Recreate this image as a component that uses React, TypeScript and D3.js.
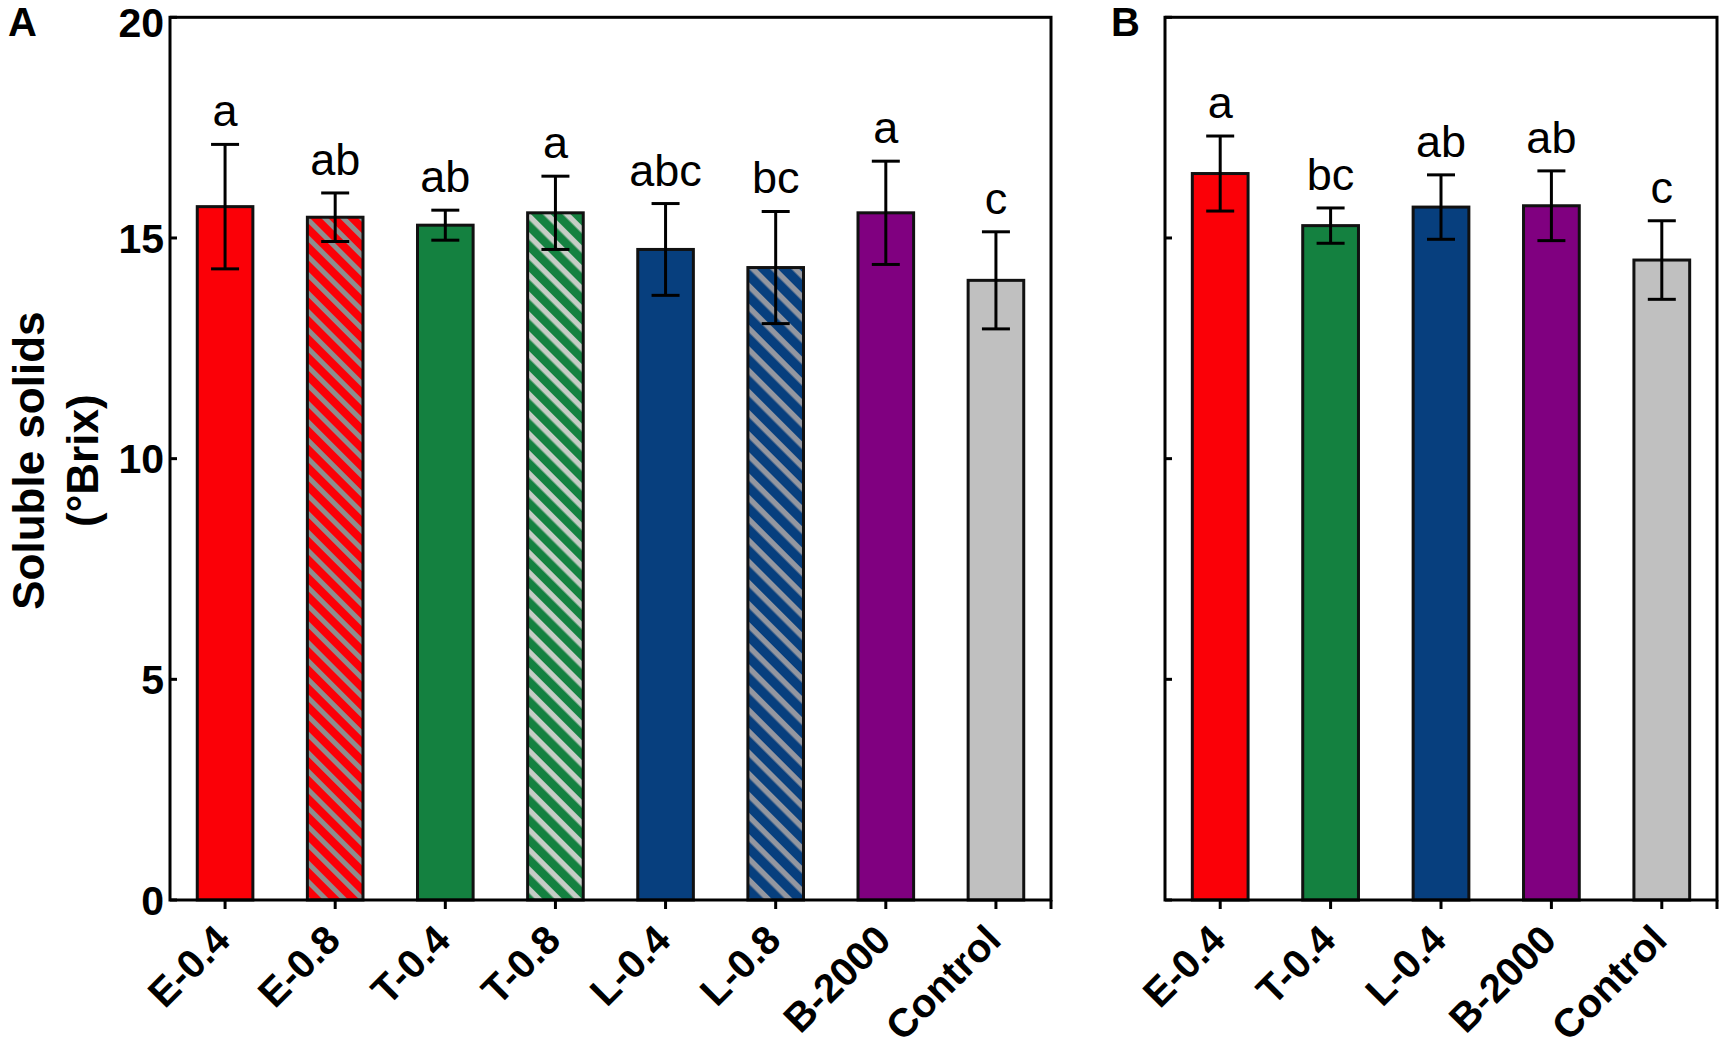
import React from "react";
import * as d3 from "d3";

// ---------- data ----------
const categoriesA = ["E-0.4", "E-0.8", "T-0.4", "T-0.8", "L-0.4", "L-0.8", "B-2000", "Control"];
const meansA = [15.71, 15.47, 15.29, 15.57, 14.74, 14.33, 15.57, 14.04];
const sdA = [1.41, 0.55, 0.34, 0.83, 1.04, 1.27, 1.17, 1.1];
const lettersA = ["a", "ab", "ab", "a", "abc", "bc", "a", "c"];

const categoriesB = ["E-0.4", "T-0.4", "L-0.4", "B-2000", "Control"];
const meansB = [16.46, 15.28, 15.7, 15.73, 14.5];
const sdB = [0.85, 0.4, 0.73, 0.79, 0.89];
const lettersB = ["a", "bc", "ab", "ab", "c"];

const yTicks = [0, 5, 10, 15, 20];
const yTitleLines = ["Soluble solids", "(°Brix)"];

// ---------- styles ----------
const fillFor: Record<string, string> = {
  "E-0.4": "#fb0007",
  "E-0.8": "url(#hatchRed)",
  "T-0.4": "#148140",
  "T-0.8": "url(#hatchGreen)",
  "L-0.4": "#073f7e",
  "L-0.8": "url(#hatchBlue)",
  "B-2000": "#800080",
  Control: "#c0c0c0",
};

const FONT = "'Liberation Sans', Arial, Helvetica, sans-serif";
const W = 1723;
const H = 1061;
const TOP = 17.3;
const BOTTOM = 900;

const y = d3.scaleLinear().domain([0, 20]).range([BOTTOM, TOP]);

type PanelProps = {
  cats: string[];
  means: number[];
  sds: number[];
  letters: string[];
  x0: number;
  x1: number;
  showLabels: boolean;
};

function Panel({ cats, means, sds, letters, x0, x1, showLabels }: PanelProps) {
  const x = d3.scaleBand<string>().domain(cats).range([x0, x1]).paddingInner(0.495).paddingOuter(0.2475);
  const bw = x.bandwidth();
  const capW = 28;
  return (
    <g>
      {cats.map((c, i) => {
        const xl = x(c) as number;
        return (
          <rect
            key={"bar" + c}
            x={xl}
            y={y(means[i])}
            width={bw}
            height={y(0) - y(means[i])}
            fill={fillFor[c]}
            stroke="#111"
            strokeWidth={3}
          />
        );
      })}
      {cats.map((c, i) => {
        const cx = (x(c) as number) + bw / 2;
        const hi = y(means[i] + sds[i]);
        const lo = y(means[i] - sds[i]);
        return (
          <g key={"err" + c} stroke="#000" strokeWidth={3}>
            <line x1={cx} x2={cx} y1={hi} y2={lo} />
            <line x1={cx - capW / 2} x2={cx + capW / 2} y1={hi} y2={hi} />
            <line x1={cx - capW / 2} x2={cx + capW / 2} y1={lo} y2={lo} />
          </g>
        );
      })}
      {cats.map((c, i) => {
        const cx = (x(c) as number) + bw / 2;
        const hi = y(means[i] + sds[i]);
        return (
          <text
            key={"let" + c}
            x={cx}
            y={hi - 18}
            textAnchor="middle"
            fontFamily={FONT}
            fontSize={45}
            fill="#000"
          >
            {letters[i]}
          </text>
        );
      })}
      <rect x={x0} y={TOP} width={x1 - x0} height={BOTTOM - TOP} fill="none" stroke="#000" strokeWidth={3} />
      {yTicks.map((t) => (
        <line key={"yt" + t} x1={x0} x2={x0 + 7} y1={y(t)} y2={y(t)} stroke="#000" strokeWidth={3} />
      ))}
      {showLabels &&
        yTicks.map((t) => (
          <text
            key={"yl" + t}
            x={x0 - 6}
            y={y(t) + (t === 20 ? 5 : 0)}
            dy="0.36em"
            textAnchor="end"
            fontFamily={FONT}
            fontWeight="bold"
            fontSize={41}
            fill="#000"
          >
            {t}
          </text>
        ))}
      {cats.map((c) => {
        const cx = (x(c) as number) + bw / 2;
        return <line key={"xt" + c} x1={cx} x2={cx} y1={BOTTOM} y2={BOTTOM + 9} stroke="#000" strokeWidth={3} />;
      })}
      <line x1={x1} x2={x1} y1={BOTTOM} y2={BOTTOM + 9} stroke="#000" strokeWidth={3} />
      {cats.map((c) => {
        const cx = (x(c) as number) + bw / 2;
        return (
          <text
            key={"xl" + c}
            transform={`translate(${cx - 3},${932}) rotate(-45)`}
            dy="0.36em"
            textAnchor="end"
            fontFamily={FONT}
            fontWeight="bold"
            fontSize={40}
            fill="#000"
          >
            {c}
          </text>
        );
      })}
    </g>
  );
}

export default function App() {
  return (
    <svg
      width={W}
      height={H}
      viewBox={`0 0 ${W} ${H}`}
      style={{ position: "absolute", left: 0, top: 0, background: "#fff" }}
    >
      <defs>
        <pattern id="hatchRed" patternUnits="userSpaceOnUse" width={13} height={13} patternTransform="rotate(45)">
          <rect x={0} y={0} width={13} height={13} fill="#fb0007" />
          <rect x={0} y={0} width={13} height={5} fill="#8e8e8e" />
        </pattern>
        <pattern id="hatchGreen" patternUnits="userSpaceOnUse" width={14} height={14} patternTransform="rotate(45)">
          <rect x={0} y={0} width={14} height={14} fill="#148140" />
          <rect x={0} y={0} width={14} height={5.5} fill="#c6cdc6" />
        </pattern>
        <pattern id="hatchBlue" patternUnits="userSpaceOnUse" width={15} height={15} patternTransform="rotate(45)">
          <rect x={0} y={0} width={15} height={15} fill="#073f7e" />
          <rect x={0} y={0} width={15} height={5.5} fill="#9497a0" />
        </pattern>
      </defs>
      <rect x={0} y={0} width={W} height={H} fill="#fff" />

      <text x={8} y={36} fontFamily={FONT} fontWeight="bold" fontSize={40} fill="#000">
        A
      </text>
      <text x={1111} y={36} fontFamily={FONT} fontWeight="bold" fontSize={40} fill="#000">
        B
      </text>

      <text
        transform={`translate(44,${(y(0) + y(20)) / 2 + 2}) rotate(-90)`}
        textAnchor="middle"
        fontFamily={FONT}
        fontWeight="bold"
        fontSize={44}
        fill="#000"
      >
        {yTitleLines[0]}
      </text>
      <text
        transform={`translate(98,${(y(0) + y(20)) / 2 + 2}) rotate(-90)`}
        textAnchor="middle"
        fontFamily={FONT}
        fontWeight="bold"
        fontSize={44}
        fill="#000"
      >
        {yTitleLines[1]}
      </text>

      <Panel cats={categoriesA} means={meansA} sds={sdA} letters={lettersA} x0={170} x1={1051} showLabels={true} />
      <Panel cats={categoriesB} means={meansB} sds={sdB} letters={lettersB} x0={1165} x1={1717} showLabels={false} />
    </svg>
  );
}
